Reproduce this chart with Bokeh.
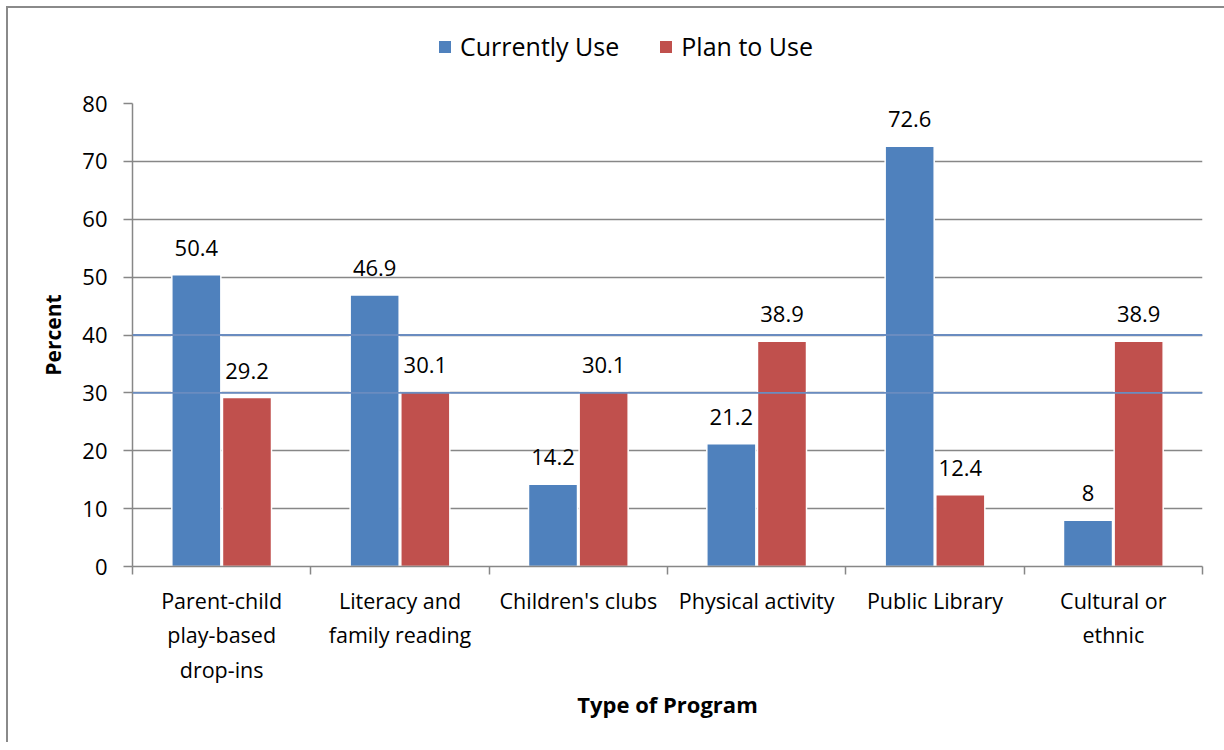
from bokeh.plotting import figure
from bokeh.layouts import column
from bokeh.models import ColumnDataSource, FixedTicker, Span, Legend, LegendItem, LabelSet
from bokeh.core.properties import value
from bokeh.transform import dodge
from bokeh.embed import file_html
from bokeh.resources import INLINE

# ---- data ----
categories = ["Parent-child\nplay-based\ndrop-ins", "Literacy and\nfamily reading",
              "Children's clubs", "Physical activity", "Public Library", "Cultural or\nethnic"]
currently_use = [50.4, 46.9, 14.2, 21.2, 72.6, 8]
plan_to_use = [29.2, 30.1, 30.1, 38.9, 12.4, 38.9]
y_ticks = [0, 10, 20, 30, 40, 50, 60, 70, 80]
series_names = ["Currently Use", "Plan to Use"]

BLUE = "#4F81BD"
RED = "#C0504D"
GRID = "#878787"
FONT = "Open Sans"
W = 1216

centers = [i + 0.5 for i in range(len(categories))]
source = ColumnDataSource(dict(
    x=centers,
    cur=currently_use,
    plan=plan_to_use,
    cur_lbl=[f"{v:g}" for v in currently_use],
    plan_lbl=[f"{v:g}" for v in plan_to_use],
))

p = figure(width=W, height=654, output_backend="svg", toolbar_location=None,
           x_range=(0, len(categories)), y_range=(0, 80),
           min_border_left=124, min_border_right=22, min_border_top=15, min_border_bottom=176)
p.outline_line_color = None
p.background_fill_color = "white"
p.border_fill_color = "white"

# grid
p.xgrid.grid_line_color = None
p.ygrid.ticker = FixedTicker(ticks=y_ticks)
p.ygrid.grid_line_color = GRID
p.ygrid.grid_line_width = 1.5
for yv in (30, 40):
    p.add_layout(Span(location=yv, dimension="width", line_color="#6A8CC0", line_width=1.8))

w = 0.275
off = 0.142
r1 = p.vbar(x=dodge("x", -off, range=p.x_range), top="cur", width=w, bottom=0,
            fill_color=BLUE, line_color="white", line_width=1.5, source=source)
r2 = p.vbar(x=dodge("x", off, range=p.x_range), top="plan", width=w, bottom=0,
            fill_color=RED, line_color="white", line_width=1.5, source=source)

for col, lbl, o in (("cur", "cur_lbl", -off), ("plan", "plan_lbl", off)):
    p.add_layout(LabelSet(x=dodge("x", o, range=p.x_range), y=col, text=lbl, source=source,
                          text_align="center", text_baseline="bottom", y_offset=19,
                          text_font=value(FONT), text_font_size="22px", text_color="#000000"))

# x axis
p.xaxis.ticker = FixedTicker(ticks=centers, minor_ticks=list(range(len(categories) + 1)))
p.xaxis.major_label_overrides = {c: lab for c, lab in zip(centers, categories)}
p.xaxis.major_tick_out = 0
p.xaxis.major_tick_in = 0
p.xaxis.minor_tick_out = 8
p.xaxis.minor_tick_in = 0
p.xaxis.minor_tick_line_color = GRID
p.xaxis.minor_tick_line_width = 1.5
p.xaxis.axis_line_color = GRID
p.xaxis.axis_line_width = 1.5
p.xaxis.major_label_text_font = FONT
p.xaxis.major_label_text_font_size = "21.5px"
p.xaxis.major_label_text_color = "#000000"
p.xaxis.major_label_standoff = 11
p.xaxis.axis_label = "Type of Program"
p.xaxis.axis_label_text_font = FONT
p.xaxis.axis_label_text_font_style = "bold"
p.xaxis.axis_label_text_font_size = "22px"
p.xaxis.axis_label_text_color = "#000000"
p.xaxis.axis_label_standoff = 2

# y axis
p.yaxis.ticker = FixedTicker(ticks=y_ticks)
p.yaxis.major_tick_out = 9
p.yaxis.major_tick_in = 0
p.yaxis.minor_tick_out = 0
p.yaxis.minor_tick_in = 0
p.yaxis.major_tick_line_color = GRID
p.yaxis.major_tick_line_width = 1.5
p.yaxis.axis_line_color = GRID
p.yaxis.axis_line_width = 1.5
p.yaxis.major_label_text_font = FONT
p.yaxis.major_label_text_font_size = "22px"
p.yaxis.major_label_text_color = "#000000"
p.yaxis.major_label_standoff = 16
p.yaxis.axis_label = "Percent"
p.yaxis.axis_label_text_font = FONT
p.yaxis.axis_label_text_font_style = "bold"
p.yaxis.axis_label_text_font_size = "21px"
p.yaxis.axis_label_text_color = "#000000"
p.yaxis.axis_label_standoff = 12

# legend strip above the plot (frames are aligned with the main plot)
lf = figure(width=W, height=80, output_backend="svg", toolbar_location=None,
            x_range=(0, 1), y_range=(0, 1), min_border=0)
lf.axis.visible = False
lf.grid.visible = False
lf.outline_line_color = None
lf.border_fill_color = "white"
# zero-height, unstroked bars: only their legend swatches are seen
l1 = lf.vbar(x="x", top=0, bottom=0, width=w, fill_color=BLUE, line_color=None, source=source)
l2 = lf.vbar(x="x", top=0, bottom=0, width=w, fill_color=RED, line_color=None, source=source)
legend = Legend(items=[LegendItem(label=series_names[0], renderers=[l1]),
                       LegendItem(label=series_names[1], renderers=[l2])],
                orientation="horizontal", location=(305, 25),
                label_text_font=FONT, label_text_font_size="25px", label_text_color="#000000",
                glyph_width=15, glyph_height=15, spacing=39, padding=0, margin=0,
                border_line_color=None, background_fill_alpha=0, label_standoff=8)
lf.add_layout(legend, "center")

layout = column(lf, p, spacing=0,
                styles={"margin-left": "6px", "margin-top": "6px",
                        "border-left": "2px solid #8a8a8a", "border-top": "2px solid #8a8a8a"})

open("out.html", "w").write(file_html(layout, INLINE))
